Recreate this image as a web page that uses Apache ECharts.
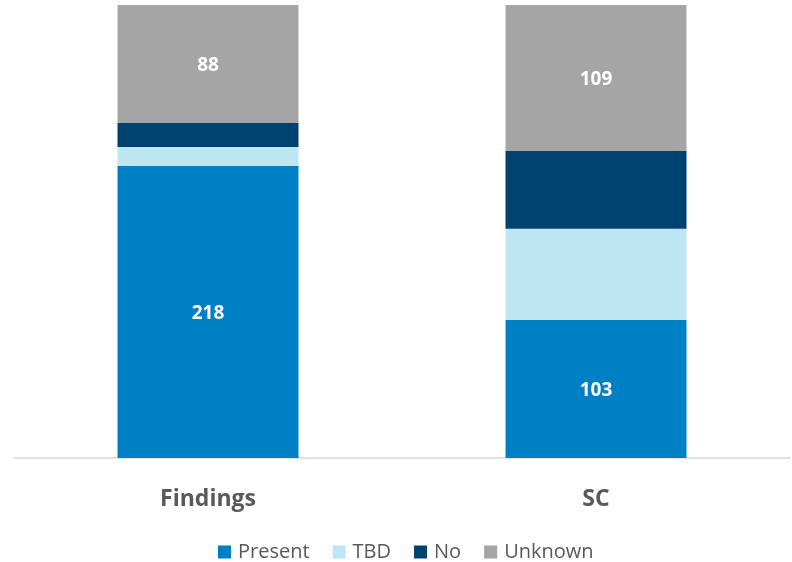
<!DOCTYPE html>
<html>
<head>
<meta charset="utf-8">
<script src="https://cdn.jsdelivr.net/npm/echarts@6/dist/echarts.min.js"></script>
<style>html,body{margin:0;padding:0;background:#fff}#c{width:792px;height:562px}</style>
</head>
<body>
<div id="c"></div>
<script>
const categories = ['Findings', 'SC'];
const present = [218, 103];
const tbd = [14, 68];
const no = [18, 58];
const unknown = [88, 109];
const yMax = 338;

const font = '"Open Sans", "Liberation Sans", sans-serif';
const chart = echarts.init(document.getElementById('c'), null, {renderer: 'canvas'});
function s(name, data, color, showLabel) {
  return {
    name, type: 'bar', stack: 'total', data, barWidth: 181,
    itemStyle: {color},
    label: {show: showLabel, position: 'inside', color: '#fff', fontWeight: 'bold', fontSize: 19, fontFamily: font, offset: [0, 2]},
    emphasis: {disabled: true}
  };
}
chart.setOption({
  animation: false,
  textStyle: {fontFamily: font},
  grid: {left: 14, right: 2, top: 5, bottom: 104, containLabel: false},
  legend: {
    bottom: -5, left: 213, itemWidth: 13, itemHeight: 13, itemGap: 23,
    icon: 'rect',
    textStyle: {color: '#595959', fontSize: 20, fontFamily: font, padding: [0, 0, 0, 2]},
    data: ['Present', 'TBD', 'No', 'Unknown']
  },
  xAxis: {
    type: 'category', data: categories,
    axisLine: {lineStyle: {color: '#D9D9D9', width: 1.5}},
    axisTick: {show: false},
    axisLabel: {color: '#595959', fontSize: 23, fontWeight: 'bold', margin: 30, fontFamily: font}
  },
  yAxis: {type: 'value', min: 0, max: yMax, show: false, splitLine: {show: false}},
  series: [
    s('Present', present, '#0080C4', true),
    s('TBD', tbd, '#BDE5F2', false),
    s('No', no, '#00426F', false),
    s('Unknown', unknown, '#A5A5A5', true)
  ]
});
</script>
</body>
</html>
